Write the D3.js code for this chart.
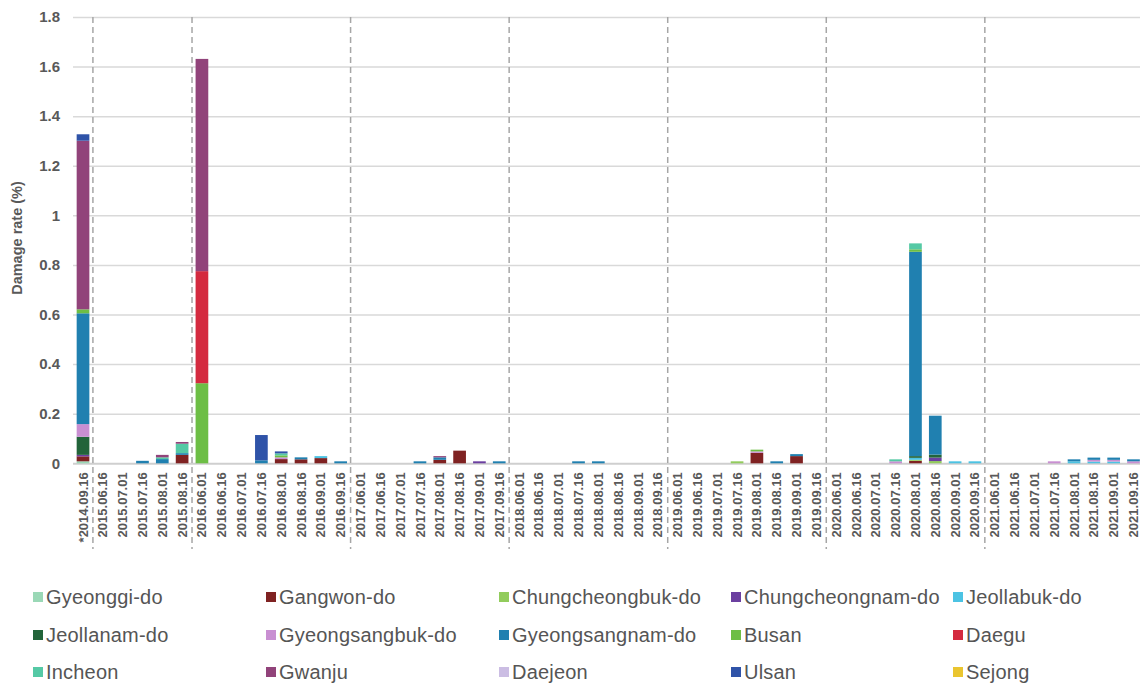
<!DOCTYPE html>
<html>
<head>
<meta charset="utf-8">
<script src="https://cdn.jsdelivr.net/npm/d3@7"></script>
<style>
  body { margin: 0; background: #fff; }
  svg { display: block; font-family: "Liberation Sans", Arial, sans-serif; }
</style>
</head>
<body>
<svg id="chart" width="1140" height="686"></svg>
<script>
"use strict";

// survey dates (x categories)
var dates = [
  "*2014.09.16",
  "2015.06.16", "2015.07.01", "2015.07.16", "2015.08.01", "2015.08.16",
  "2016.06.01", "2016.06.16", "2016.07.01", "2016.07.16", "2016.08.01", "2016.08.16", "2016.09.01", "2016.09.16",
  "2017.06.01", "2017.06.16", "2017.07.01", "2017.07.16", "2017.08.01", "2017.08.16", "2017.09.01", "2017.09.16",
  "2018.06.01", "2018.06.16", "2018.07.01", "2018.07.16", "2018.08.01", "2018.08.16", "2018.09.01", "2018.09.16",
  "2019.06.01", "2019.06.16", "2019.07.01", "2019.07.16", "2019.08.01", "2019.08.16", "2019.09.01", "2019.09.16",
  "2020.06.01", "2020.06.16", "2020.07.01", "2020.07.16", "2020.08.01", "2020.08.16", "2020.09.01", "2020.09.16",
  "2021.06.01", "2021.06.16", "2021.07.01", "2021.07.16", "2021.08.01", "2021.08.16", "2021.09.01", "2021.09.16"
];

// first date of each year block after the first (dashed separators)
var yearStarts = ["2015.06.16", "2016.06.01", "2017.06.01", "2018.06.01", "2019.06.01", "2020.06.01", "2021.06.01"];

var regions = [
  "Gyeonggi-do", "Gangwon-do", "Chungcheongbuk-do", "Chungcheongnam-do", "Jeollabuk-do",
  "Jeollanam-do", "Gyeongsangbuk-do", "Gyeongsangnam-do", "Busan", "Daegu",
  "Incheon", "Gwanju", "Daejeon", "Ulsan", "Sejong"
];

var colors = [
  "#9ad8b6", "#7f2222", "#92cc5c", "#6b3fa0", "#4cc3e3",
  "#22643a", "#c98fd2", "#2080b0", "#6dbe45", "#d42a3f",
  "#55c9a5", "#91437a", "#cbbde3", "#2f53a8", "#eac52f"
];

// damage rate (%) per region; groups: 2014 | 2015 | 2016 | 2017 | 2018 | 2019 | 2020 | 2021
var gyeonggi = [0.008, 0, 0, 0, 0, 0, 0, 0, 0, 0, 0, 0, 0, 0, 0, 0, 0, 0, 0, 0, 0, 0, 0, 0, 0, 0, 0, 0, 0, 0, 0, 0, 0, 0, 0, 0, 0, 0, 0, 0, 0, 0, 0, 0, 0, 0, 0, 0, 0, 0, 0, 0, 0, 0];
var gangwon = [0.02, 0, 0, 0, 0, 0.034, 0, 0, 0, 0, 0.017, 0.016, 0.021, 0, 0, 0, 0, 0, 0.014, 0.051, 0, 0, 0, 0, 0, 0, 0, 0, 0, 0, 0, 0, 0, 0, 0.042, 0, 0.029, 0, 0, 0, 0, 0, 0.01, 0, 0, 0, 0, 0, 0, 0, 0, 0, 0, 0];
var chungbuk = [0, 0, 0, 0, 0, 0, 0, 0, 0, 0, 0, 0, 0, 0, 0, 0, 0, 0, 0, 0, 0, 0, 0, 0, 0, 0, 0, 0, 0, 0, 0, 0, 0, 0.008, 0, 0, 0, 0, 0, 0, 0, 0, 0.004, 0.009, 0, 0, 0, 0, 0, 0, 0, 0, 0, 0];
var chungnam = [0.006, 0, 0, 0, 0, 0, 0, 0, 0, 0, 0, 0, 0, 0, 0, 0, 0, 0, 0, 0, 0.008, 0, 0, 0, 0, 0, 0, 0, 0, 0, 0, 0, 0, 0, 0, 0, 0, 0, 0, 0, 0, 0, 0, 0.014, 0, 0, 0, 0, 0, 0, 0, 0, 0, 0];
var jeollabuk = [0, 0, 0, 0, 0, 0, 0, 0, 0, 0, 0, 0, 0.008, 0, 0, 0, 0, 0, 0, 0, 0, 0, 0, 0, 0, 0, 0, 0, 0, 0, 0, 0, 0, 0, 0, 0, 0, 0, 0, 0, 0, 0, 0.008, 0, 0.008, 0.008, 0, 0, 0, 0, 0.008, 0.007, 0.007, 0];
var jeollanam = [0.073, 0, 0, 0, 0, 0, 0, 0, 0, 0, 0, 0, 0, 0, 0, 0, 0, 0, 0, 0, 0, 0, 0, 0, 0, 0, 0, 0, 0, 0, 0, 0, 0, 0, 0, 0, 0, 0, 0, 0, 0, 0, 0.007, 0.012, 0, 0, 0, 0, 0, 0, 0, 0, 0, 0];
var gyeongsangbuk = [0.051, 0, 0, 0, 0, 0, 0, 0, 0, 0, 0.007, 0, 0, 0, 0, 0, 0, 0, 0, 0, 0, 0, 0, 0, 0, 0, 0, 0, 0, 0, 0, 0, 0, 0, 0.006, 0, 0, 0, 0, 0, 0, 0.008, 0, 0, 0, 0, 0, 0, 0, 0.008, 0, 0.007, 0.007, 0.008];
var gyeongsangnam = [0.447, 0, 0, 0.01, 0.017, 0.007, 0, 0, 0, 0.012, 0, 0.008, 0, 0.008, 0, 0, 0, 0.008, 0.01, 0, 0, 0.008, 0, 0, 0, 0.008, 0.008, 0, 0, 0, 0, 0, 0, 0, 0, 0.008, 0.008, 0, 0, 0, 0, 0, 0.824, 0.157, 0, 0, 0, 0, 0, 0, 0.008, 0.009, 0.009, 0.008];
var busan = [0.016, 0, 0, 0, 0, 0, 0.323, 0, 0, 0, 0.008, 0, 0, 0, 0, 0, 0, 0, 0, 0, 0, 0, 0, 0, 0, 0, 0, 0, 0, 0, 0, 0, 0, 0, 0.007, 0, 0, 0, 0, 0, 0, 0, 0.01, 0, 0, 0, 0, 0, 0, 0, 0, 0, 0, 0];
var daegu = [0, 0, 0, 0, 0, 0, 0.452, 0, 0, 0, 0, 0, 0, 0, 0, 0, 0, 0, 0, 0, 0, 0, 0, 0, 0, 0, 0, 0, 0, 0, 0, 0, 0, 0, 0, 0, 0, 0, 0, 0, 0, 0, 0, 0, 0, 0, 0, 0, 0, 0, 0, 0, 0, 0];
var incheon = [0, 0, 0, 0, 0.007, 0.038, 0, 0, 0, 0, 0.008, 0, 0, 0, 0, 0, 0, 0, 0, 0, 0, 0, 0, 0, 0, 0, 0, 0, 0, 0, 0, 0, 0, 0, 0, 0, 0, 0, 0, 0, 0, 0.008, 0.024, 0, 0, 0, 0, 0, 0, 0, 0, 0, 0, 0];
var gwanju = [0.68, 0, 0, 0, 0.01, 0.007, 0.856, 0, 0, 0, 0, 0, 0, 0, 0, 0, 0, 0, 0.005, 0, 0, 0, 0, 0, 0, 0, 0, 0, 0, 0, 0, 0, 0, 0, 0, 0, 0, 0, 0, 0, 0, 0, 0, 0, 0, 0, 0, 0, 0, 0, 0, 0, 0, 0];
var daejeon = [0, 0, 0, 0, 0, 0, 0, 0, 0, 0, 0, 0, 0, 0, 0, 0, 0, 0, 0, 0, 0, 0, 0, 0, 0, 0, 0, 0, 0, 0, 0, 0, 0, 0, 0, 0, 0, 0, 0, 0, 0, 0, 0, 0, 0, 0, 0, 0, 0, 0, 0, 0, 0, 0];
var ulsan = [0.026, 0, 0, 0, 0, 0, 0, 0, 0, 0.102, 0.008, 0, 0, 0, 0, 0, 0, 0, 0, 0, 0, 0, 0, 0, 0, 0, 0, 0, 0, 0, 0, 0, 0, 0, 0, 0, 0, 0, 0, 0, 0, 0, 0, 0, 0, 0, 0, 0, 0, 0, 0, 0, 0, 0];
var sejong = [0, 0, 0, 0, 0, 0, 0, 0, 0, 0, 0, 0, 0, 0, 0, 0, 0, 0, 0, 0, 0, 0, 0, 0, 0, 0, 0, 0, 0, 0, 0, 0, 0, 0, 0, 0, 0, 0, 0, 0, 0, 0, 0, 0, 0, 0, 0, 0, 0, 0, 0, 0, 0, 0];

var yTicks = [0, 0.2, 0.4, 0.6, 0.8, 1, 1.2, 1.4, 1.6, 1.8];

var series = [gyeonggi, gangwon, chungbuk, chungnam, jeollabuk, jeollanam, gyeongsangbuk,
  gyeongsangnam, busan, daegu, incheon, gwanju, daejeon, ulsan, sejong];

// one row per date, keyed by region, for d3.stack
var table = dates.map(function (d, i) {
  var row = { date: d };
  regions.forEach(function (r, k) {
    row[r] = series[k][i];
  });
  return row;
});

var svg = d3.select("#chart");

var x = d3.scaleBand()
  .domain(dates)
  .range([73.1, 1143.4])
  .paddingInner(0.36)
  .paddingOuter(0.18);

var y = d3.scaleLinear()
  .domain([0, 1.8])
  .range([463.3, 17]);

var color = d3.scaleOrdinal().domain(regions).range(colors);

// horizontal grid + y labels
var yAxis = svg.append("g")
  .attr("transform", "translate(73,0)")
  .call(d3.axisLeft(y)
    .tickValues(yTicks)
    .tickSize(-1080)
    .tickPadding(13)
    .tickFormat(function (d) { return String(+d.toFixed(1)); }));

yAxis.select(".domain").remove();
yAxis.selectAll(".tick line")
  .attr("stroke", function (d) { return d === 0 ? "#cfcfcf" : "#d9d9d9"; })
  .attr("stroke-width", function (d) { return d === 0 ? 2 : 1.5; });
yAxis.selectAll(".tick text")
  .attr("fill", "#595959")
  .style("font-size", "15px")
  .style("font-weight", "bold");

// dashed year separators
svg.append("g")
  .selectAll("line")
  .data(yearStarts)
  .join("line")
  .attr("x1", function (d) { return x(d) - x.step() * x.paddingInner() / 2; })
  .attr("x2", function (d) { return x(d) - x.step() * x.paddingInner() / 2; })
  .attr("y1", 17)
  .attr("y2", 549)
  .attr("stroke", "#a6a6a6")
  .attr("stroke-width", 1.5)
  .attr("stroke-dasharray", "6,4");

// stacked bars
var stacked = d3.stack().keys(regions)(table);

svg.append("g")
  .selectAll("g")
  .data(stacked)
  .join("g")
  .attr("fill", function (d) { return color(d.key); })
  .selectAll("rect")
  .data(function (d) { return d.filter(function (p) { return p[1] - p[0] > 0; }); })
  .join("rect")
  .attr("x", function (d) { return x(d.data.date); })
  .attr("width", x.bandwidth())
  .attr("y", function (d) { return y(d[1]); })
  .attr("height", function (d) { return y(d[0]) - y(d[1]); });

// x labels
var xAxis = svg.append("g")
  .attr("transform", "translate(0,463.3)")
  .call(d3.axisBottom(x).tickSize(0).tickPadding(0));

xAxis.select(".domain").remove();
xAxis.selectAll(".tick text")
  .attr("transform", "rotate(-90)")
  .attr("x", -9)
  .attr("y", 0)
  .attr("dy", "0.35em")
  .attr("fill", "#595959")
  .style("text-anchor", "end")
  .style("font-size", "13px")
  .style("font-weight", "bold");

// y title
svg.append("text")
  .attr("transform", "translate(22,238) rotate(-90)")
  .attr("text-anchor", "middle")
  .attr("fill", "#595959")
  .style("font-size", "14.5px")
  .style("font-weight", "bold")
  .text("Damage rate (%)");

// legend, 5 columns x 3 rows
var legendCols = [33, 266, 499, 731, 953];
var legendRows = [597, 635, 672];

var legend = svg.append("g")
  .selectAll("g")
  .data(regions)
  .join("g")
  .attr("transform", function (d, i) {
    return "translate(" + legendCols[i % 5] + "," + legendRows[Math.floor(i / 5)] + ")";
  });

legend.append("rect")
  .attr("x", 0)
  .attr("y", -5)
  .attr("width", 10)
  .attr("height", 10)
  .attr("fill", function (d) { return color(d); });

legend.append("text")
  .attr("x", 13)
  .attr("y", 0)
  .attr("dy", "0.35em")
  .attr("fill", "#555555")
  .style("font-size", "20px")
  .style("letter-spacing", "0.2px")
  .text(function (d) { return d; });
</script>
</body>
</html>
